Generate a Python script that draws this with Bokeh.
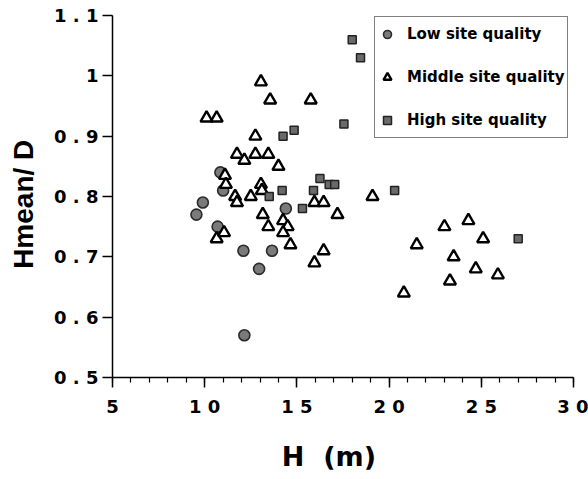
import math
from bokeh.plotting import figure
from bokeh.models import Range1d, FixedTicker, Legend, LegendItem
from bokeh.embed import file_html
from bokeh.resources import INLINE

# ---- data ----
low_h = [9.55, 9.9, 10.7, 10.85, 11.0, 12.1, 12.95, 13.65, 14.4, 12.15]
low_r = [0.77, 0.79, 0.75, 0.84, 0.81, 0.71, 0.68, 0.71, 0.78, 0.57]

mid_h = [10.1, 10.65, 13.05, 13.55, 15.75, 12.75, 11.75, 12.15, 12.75, 13.45,
         14.0, 11.1, 11.15, 13.05, 13.1, 11.65, 11.75, 12.5, 13.15, 13.45,
         10.65, 11.05, 14.25, 14.5, 14.25, 14.65, 15.95, 16.45, 15.95, 16.45,
         17.2, 19.1, 21.5, 20.8, 23.0, 24.3, 25.1, 23.5, 24.7, 23.3, 25.9]
mid_r = [0.93, 0.93, 0.99, 0.96, 0.96, 0.90, 0.87, 0.86, 0.87, 0.87,
         0.85, 0.835, 0.82, 0.82, 0.81, 0.80, 0.79, 0.80, 0.77, 0.75,
         0.73, 0.74, 0.76, 0.75, 0.74, 0.72, 0.79, 0.79, 0.69, 0.71,
         0.77, 0.80, 0.72, 0.64, 0.75, 0.76, 0.73, 0.70, 0.68, 0.66, 0.67]

high_h = [14.25, 14.85, 18.0, 18.45, 17.55, 16.25, 16.75, 17.05, 13.5, 14.2,
          15.9, 15.3, 20.3, 27.0]
high_r = [0.90, 0.91, 1.06, 1.03, 0.92, 0.83, 0.82, 0.82, 0.80, 0.81,
          0.81, 0.78, 0.81, 0.73]

x_ticks = [5, 10, 15, 20, 25, 30]
x_tick_labels = ["5", "1 0", "1 5", "2 0", "2 5", "3 0"]
y_ticks = [0.5, 0.6, 0.7, 0.8, 0.9, 1.0, 1.1]
y_tick_labels = ["0 . 5", "0 . 6", "0 . 7", "0 . 8", "0 . 9", "1", "1 . 1"]

series_names = ["Low site quality", "Middle site quality", "High site quality"]
NB = "\u00a0"
x_label = "H" + NB * 2 + "(m)" + NB * 3
y_label = "Hmean/" + NB + "D" + NB * 2

# ---- figure ----
p = figure(width=588, height=479, output_backend="svg", toolbar_location=None,
           x_range=Range1d(5, 30), y_range=Range1d(0.5, 1.1),
           min_border_left=112, min_border_right=15, min_border_top=15,
           min_border_bottom=102)
p.outline_line_color = None
p.xgrid.visible = False
p.ygrid.visible = False
p.background_fill_color = "white"
p.border_fill_color = "white"

TICK_FONT = "DejaVu Sans"

xa = p.xaxis[0]
xa.ticker = FixedTicker(ticks=x_ticks, minor_ticks=list(range(5, 31)))
xa.major_label_overrides = {t: l for t, l in zip(x_ticks, x_tick_labels)}
xa.major_tick_out = 10
xa.major_tick_in = 0
xa.minor_tick_out = 5
xa.minor_tick_in = 0
xa.axis_line_width = 1.5
xa.major_tick_line_width = 1.5
xa.minor_tick_line_width = 1.2
xa.major_label_text_font = TICK_FONT
xa.major_label_text_font_style = "bold"
xa.major_label_text_font_size = "18px"
xa.major_label_text_color = "black"
xa.major_label_standoff = 8
xa.axis_label = x_label
xa.axis_label_text_font = "DejaVu Sans"
xa.axis_label_text_font_style = "bold"
xa.axis_label_text_font_size = "27px"
xa.axis_label_text_color = "black"
xa.axis_label_standoff = 21

ya = p.yaxis[0]
ya.ticker = FixedTicker(ticks=y_ticks, minor_ticks=[])
ya.major_label_overrides = {t: l for t, l in zip(y_ticks, y_tick_labels)}
ya.major_tick_out = 10
ya.major_tick_in = 0
ya.minor_tick_out = 0
ya.minor_tick_in = 0
ya.axis_line_width = 1.5
ya.major_tick_line_width = 1.5
ya.major_label_text_font = TICK_FONT
ya.major_label_text_font_style = "bold"
ya.major_label_text_font_size = "18px"
ya.major_label_text_color = "black"
ya.major_label_standoff = 4
ya.axis_label = y_label
ya.axis_label_text_font = "Liberation Sans"
ya.axis_label_text_font_style = "bold"
ya.axis_label_text_font_size = "28px"
ya.axis_label_text_color = "black"
ya.axis_label_standoff = 12

# ---- markers ----
r_low = p.scatter(low_h, low_r, marker="circle", size=11,
                  fill_color="#7a7a7a", line_color="#2a2a2a", line_width=1.6)
r_mid = p.scatter(mid_h, mid_r, marker="triangle", size=12,
                  fill_color="white", line_color="black", line_width=2.4)
r_high = p.scatter(high_h, high_r, marker="square", size=8,
                   fill_color="#6a6a6a", line_color="#222222", line_width=1.5)

legend = Legend(items=[LegendItem(label=series_names[0], renderers=[r_low]),
                       LegendItem(label=series_names[1], renderers=[r_mid]),
                       LegendItem(label=series_names[2], renderers=[r_high])],
                location=(262, 239))
legend.padding = 2
legend.margin = 0
legend.spacing = 13
legend.glyph_width = 20
legend.glyph_height = 30
legend.label_height = 30
legend.label_standoff = 10
legend.label_text_font = "DejaVu Sans"
legend.label_text_font_style = "bold"
legend.label_text_font_size = "15px"
legend.label_text_color = "black"
legend.border_line_color = "black"
legend.border_line_width = 1.5
legend.background_fill_color = "white"
legend.background_fill_alpha = 1.0
p.add_layout(legend)

open("out.html", "w").write(file_html(p, INLINE))
